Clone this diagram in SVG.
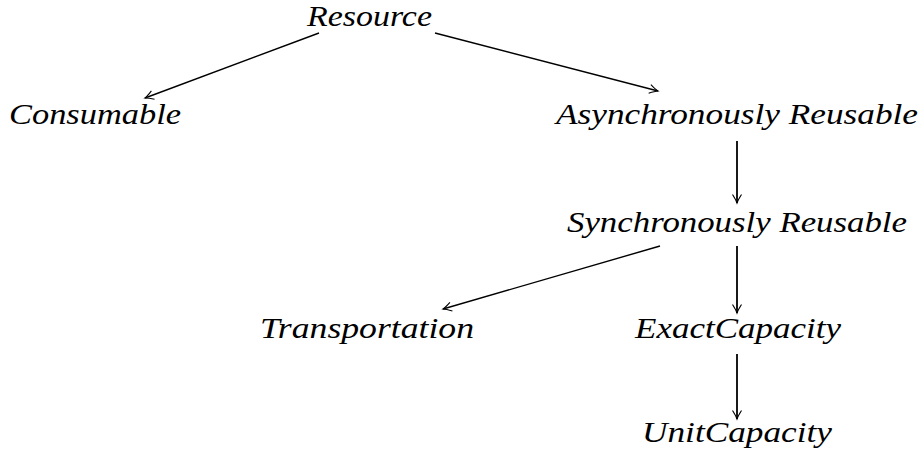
<svg xmlns="http://www.w3.org/2000/svg" width="923" height="458" viewBox="0 0 923 458">
  <style>
    .lbl { font-family: "Liberation Serif", "DejaVu Serif", serif; font-style: italic; font-size: 29px; fill: #000; text-anchor: middle; }
    .edge { stroke: #000; stroke-width: 1.4; fill: none; marker-end: url(#tip); }
    .vert { stroke-width: 1.8; }
  </style>
  <defs>
    <marker id="tip" viewBox="-10 -6 12 12" markerWidth="12" markerHeight="12" refX="0" refY="0" orient="auto" markerUnits="userSpaceOnUse">
      <path d="M -8.5 -4.5 Q -3 -1 0 0 Q -3 1 -8.5 4.5" fill="none" stroke="#000" stroke-width="1.1"/>
    </marker>
  </defs>
  <rect width="923" height="458" fill="#fff"/>

  <g id="connectors">
    <line class="edge" x1="319" y1="33" x2="145" y2="98"/>
    <line class="edge" x1="435" y1="33" x2="658" y2="91"/>
    <line class="edge vert" x1="737" y1="141" x2="737" y2="203"/>
    <line class="edge" x1="660" y1="246" x2="443" y2="309"/>
    <line class="edge vert" x1="737" y1="246" x2="737" y2="313"/>
    <line class="edge vert" x1="737" y1="354" x2="737" y2="419"/>
  </g>

  <g id="resource"><text class="lbl" x="369.5" y="26" textLength="125" lengthAdjust="spacingAndGlyphs">Resource</text></g>
  <g id="consumable"><text class="lbl" x="95" y="124" textLength="172" lengthAdjust="spacingAndGlyphs">Consumable</text></g>
  <g id="async-reusable"><text class="lbl" x="737" y="124" textLength="362" lengthAdjust="spacingAndGlyphs">Asynchronously Reusable</text></g>
  <g id="sync-reusable"><text class="lbl" x="737" y="232" textLength="340" lengthAdjust="spacingAndGlyphs">Synchronously Reusable</text></g>
  <g id="transportation"><text class="lbl" x="367" y="338" textLength="214" lengthAdjust="spacingAndGlyphs">Transportation</text></g>
  <g id="exact-capacity"><text class="lbl" x="738" y="338" textLength="206" lengthAdjust="spacingAndGlyphs">ExactCapacity</text></g>
  <g id="unit-capacity"><text class="lbl" x="737" y="442" textLength="190" lengthAdjust="spacingAndGlyphs">UnitCapacity</text></g>
</svg>
